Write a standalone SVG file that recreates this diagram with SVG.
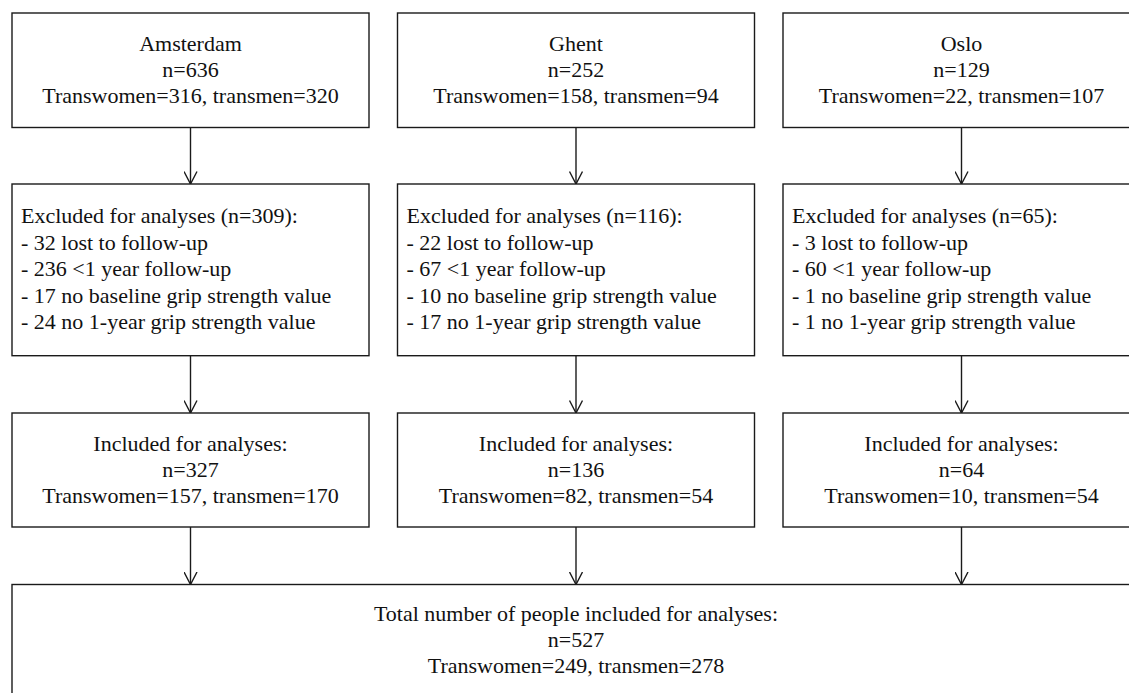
<svg xmlns="http://www.w3.org/2000/svg" width="1129" height="693" viewBox="0 0 1129 693">
<style>
  .box { fill: #ffffff; stroke: #1a1a1a; stroke-width: 1.4; }
  .t { font-family: "Liberation Serif", "Times New Roman", serif; font-size: 22px; fill: #111111; }
  .c { text-anchor: middle; }
  .edge { stroke: #1a1a1a; stroke-width: 1.4; fill: none; marker-end: url(#arrow); }
</style>
<defs>
  <marker id="arrow" viewBox="0 0 14 14" refX="13" refY="7" markerWidth="14" markerHeight="14" markerUnits="userSpaceOnUse" orient="auto">
    <path d="M0.5,0.5 L13,7 L0.5,13.5" fill="none" stroke="#1a1a1a" stroke-width="1.4"/>
  </marker>
</defs>
<rect width="1129" height="693" fill="#ffffff"/>

<g id="connectors">
  <line class="edge" x1="190.5" y1="127.5" x2="190.5" y2="184"/>
  <line class="edge" x1="576" y1="127.5" x2="576" y2="184"/>
  <line class="edge" x1="961.5" y1="127.5" x2="961.5" y2="184"/>
  <line class="edge" x1="190.5" y1="355.7" x2="190.5" y2="413"/>
  <line class="edge" x1="576" y1="355.7" x2="576" y2="413"/>
  <line class="edge" x1="961.5" y1="355.7" x2="961.5" y2="413"/>
  <line class="edge" x1="190.5" y1="527" x2="190.5" y2="584.5"/>
  <line class="edge" x1="576" y1="527" x2="576" y2="584.5"/>
  <line class="edge" x1="961.5" y1="527" x2="961.5" y2="584.5"/>
</g>

<g id="amsterdam">
  <rect class="box" x="12" y="13" width="357" height="114.5"/>
  <text class="t c" x="190.5" y="51">Amsterdam</text>
  <text class="t c" x="190.5" y="77">n=636</text>
  <text class="t c" x="190.5" y="103">Transwomen=316, transmen=320</text>
</g>
<g id="ghent">
  <rect class="box" x="397.5" y="13" width="357" height="114.5"/>
  <text class="t c" x="576" y="51">Ghent</text>
  <text class="t c" x="576" y="77">n=252</text>
  <text class="t c" x="576" y="103">Transwomen=158, transmen=94</text>
</g>
<g id="oslo">
  <rect class="box" x="783" y="13" width="357" height="114.5"/>
  <text class="t c" x="961.5" y="51">Oslo</text>
  <text class="t c" x="961.5" y="77">n=129</text>
  <text class="t c" x="961.5" y="103">Transwomen=22, transmen=107</text>
</g>

<g id="amsterdam-excluded">
  <rect class="box" x="12" y="184" width="357" height="171.7"/>
  <text class="t" x="21" y="223">Excluded for analyses (n=309):</text>
  <text class="t" x="21" y="249.5">- 32 lost to follow-up</text>
  <text class="t" x="21" y="276">- 236 &lt;1 year follow-up</text>
  <text class="t" x="21" y="302.5">- 17 no baseline grip strength value</text>
  <text class="t" x="21" y="329">- 24 no 1-year grip strength value</text>
</g>
<g id="ghent-excluded">
  <rect class="box" x="397.5" y="184" width="357" height="171.7"/>
  <text class="t" x="406.5" y="223">Excluded for analyses (n=116):</text>
  <text class="t" x="406.5" y="249.5">- 22 lost to follow-up</text>
  <text class="t" x="406.5" y="276">- 67 &lt;1 year follow-up</text>
  <text class="t" x="406.5" y="302.5">- 10 no baseline grip strength value</text>
  <text class="t" x="406.5" y="329">- 17 no 1-year grip strength value</text>
</g>
<g id="oslo-excluded">
  <rect class="box" x="783" y="184" width="357" height="171.7"/>
  <text class="t" x="792" y="223">Excluded for analyses (n=65):</text>
  <text class="t" x="792" y="249.5">- 3 lost to follow-up</text>
  <text class="t" x="792" y="276">- 60 &lt;1 year follow-up</text>
  <text class="t" x="792" y="302.5">- 1 no baseline grip strength value</text>
  <text class="t" x="792" y="329">- 1 no 1-year grip strength value</text>
</g>

<g id="amsterdam-included">
  <rect class="box" x="12" y="413" width="357" height="114"/>
  <text class="t c" x="190.5" y="451">Included for analyses:</text>
  <text class="t c" x="190.5" y="477">n=327</text>
  <text class="t c" x="190.5" y="503">Transwomen=157, transmen=170</text>
</g>
<g id="ghent-included">
  <rect class="box" x="397.5" y="413" width="357" height="114"/>
  <text class="t c" x="576" y="451">Included for analyses:</text>
  <text class="t c" x="576" y="477">n=136</text>
  <text class="t c" x="576" y="503">Transwomen=82, transmen=54</text>
</g>
<g id="oslo-included">
  <rect class="box" x="783" y="413" width="357" height="114"/>
  <text class="t c" x="961.5" y="451">Included for analyses:</text>
  <text class="t c" x="961.5" y="477">n=64</text>
  <text class="t c" x="961.5" y="503">Transwomen=10, transmen=54</text>
</g>

<g id="total">
  <rect class="box" x="12" y="584.5" width="1128" height="140"/>
  <text class="t c" x="576" y="621">Total number of people included for analyses:</text>
  <text class="t c" x="576" y="647">n=527</text>
  <text class="t c" x="576" y="673">Transwomen=249, transmen=278</text>
</g>
</svg>
